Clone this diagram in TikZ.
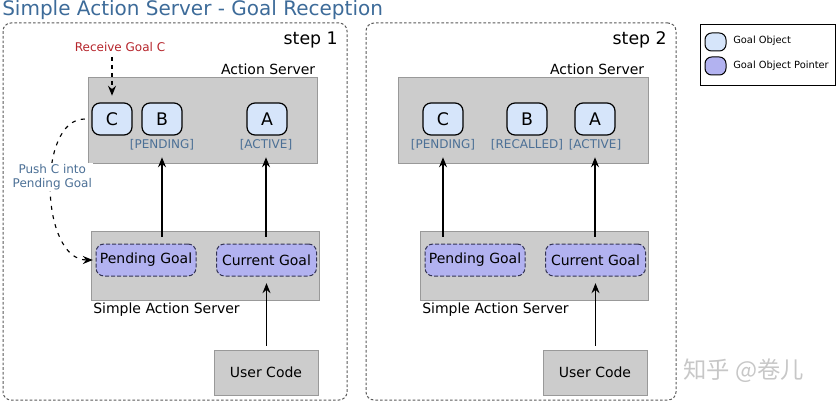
\documentclass[tikz,border=0pt]{standalone}
\usepackage{fontspec}
\setmainfont{DejaVu Sans}
\newfontfamily\cjk{Noto Sans CJK SC}
\usepackage{xcolor}
\usepackage{tikz}
\usetikzlibrary{arrows.meta}
\definecolor{boxgray}{rgb}{0.80, 0.80, 0.80}
\definecolor{boxedge}{rgb}{0.60, 0.60, 0.60}
\definecolor{objblue}{rgb}{0.84, 0.90, 0.98}
\definecolor{ptrpurple}{rgb}{0.70, 0.70, 0.94}
\definecolor{ptredge}{rgb}{0.20, 0.20, 0.33}
\definecolor{lblblue}{rgb}{0.30, 0.44, 0.59}
\definecolor{titleblue}{rgb}{0.24, 0.42, 0.60}
\definecolor{recvred}{rgb}{0.71, 0.14, 0.17}
\definecolor{dashgray}{rgb}{0.35, 0.35, 0.35}

\begin{document}
\begin{tikzpicture}[x=0.75pt, y=-0.75pt,
					every node/.style = {inner sep=0pt, font=\fontsize{10.5pt}{12pt}\selectfont},
					panel/.style = {draw=dashgray, line width=0.75pt, dash pattern=on 2pt off 1.5pt, rounded corners=6pt},
					srvbox/.style = {draw=boxedge, line width=0.75pt, fill=boxgray},
					goalobj/.style = {draw, line width=0.9pt, fill=objblue, rounded corners=6pt,
						minimum width=30pt, minimum height=24pt, font=\fontsize{13pt}{15pt}\selectfont},
					goalptr/.style = {draw=ptredge, line width=0.75pt, dash pattern=on 3pt off 1.5pt, fill=ptrpurple,
						rounded corners=6pt, minimum width=75pt, minimum height=24pt},
					statelbl/.style = {text=lblblue, font=\fontsize{9pt}{10.5pt}\selectfont},
					arr/.style = {-{Stealth[length=7.5pt, width=6pt, inset=2.5pt]}, line width=0.85pt}]
	\useasboundingbox (0,0) rectangle (838,403);
	\node[anchor=base west, text=titleblue, font=\fontsize{15pt}{18pt}\selectfont] (title) at (2,16)
		{Simple Action Server - Goal Reception};

	\node[panel, minimum width=258pt, minimum height=282.75pt] (panel1) at (175,211.5) {};
	\node[panel, minimum width=232.5pt, minimum height=282.75pt] (panel2) at (521,211.5) {};
	\node[anchor=base east, font=\fontsize{13pt}{15pt}\selectfont] (step1) at (338,45) {step 1};
	\node[anchor=base east, font=\fontsize{13pt}{15pt}\selectfont] (step2) at (667,45) {step 2};

	\node[srvbox, minimum width=171.75pt, minimum height=63.75pt] (as1) at (202.5,120.5) {};
	\node[srvbox, minimum width=187.5pt, minimum height=63.75pt] (as2) at (523,120.5) {};
	\node[anchor=south east, xshift=-1.5pt, yshift=2pt] (aslbl1) at (as1.north east) {Action Server};
	\node[anchor=south east, xshift=-3pt, yshift=2pt] (aslbl2) at (as2.north east) {Action Server};

	\node[goalobj] (C1) at (112,119) {C};
	\node[goalobj] (B1) at (162,119) {B};
	\node[goalobj] (A1) at (267,119) {A};
	\node[statelbl] (lblB1) at (162,145) {[PENDING]};
	\node[statelbl] (lblA1) at (266,145) {[ACTIVE]};
	\node[goalobj] (C2) at (443,119) {C};
	\node[goalobj] (B2) at (527,119) {B};
	\node[goalobj] (A2) at (595,119) {A};
	\node[statelbl] (lblC2) at (443,145) {[PENDING]};
	\node[statelbl] (lblB2) at (527,145) {[RECALLED]};
	\node[statelbl] (lblA2) at (595,145) {[ACTIVE]};

	\node[srvbox, minimum width=171pt, minimum height=51.75pt] (sas1) at (205,265.5) {};
	\node[srvbox, minimum width=171pt, minimum height=51.75pt] (sas2) at (534.5,265.5) {};
	\node[anchor=base west] (saslbl1) at (93,313) {Simple Action Server};
	\node[anchor=base west] (saslbl2) at (422,313) {Simple Action Server};
	\node[goalptr] (pg1) at (146,260) {Pending Goal};
	\node[goalptr] (cg1) at (266.5,260) {Current Goal};
	\node[goalptr] (pg2) at (475,260) {Pending Goal};
	\node[goalptr] (cg2) at (595.5,260) {Current Goal};

	\node[srvbox, minimum width=78pt, minimum height=33.75pt] (uc1) at (266,372.5) {User Code};
	\node[srvbox, minimum width=78pt, minimum height=33.75pt] (uc2) at (595,372.5) {User Code};

	\node[anchor=base, text=recvred, font=\fontsize{9pt}{10.5pt}\selectfont] (recv) at (120,51) {Receive Goal C};
	\draw[arr, dashed, shorten <=4pt, shorten >=5pt] (C1.north |- recv.south) -- (C1.north);
	\draw[arr, dash pattern=on 3pt off 4pt, shorten <=5pt, shorten >=2pt] (C1.west) to[out=180, in=180]
		node[pos=0.44, statelbl, fill=white, align=center, inner sep=1pt] (push) {Push C into\\Pending Goal} (pg1.west);

	\draw[arr, shorten <=5pt, shorten >=5pt] (pg1.north -| lblB1) -- (lblB1.south);
	\draw[arr, shorten <=5pt, shorten >=5pt] (cg1.north -| lblA1) -- (lblA1.south);
	\draw[arr, shorten <=3pt, shorten >=5pt] (uc1.north -| cg1) -- (cg1.south);
	\draw[arr, shorten <=5pt, shorten >=5pt] (pg2.north -| lblC2) -- (lblC2.south);
	\draw[arr, shorten <=5pt, shorten >=5pt] (cg2.north -| lblA2) -- (lblA2.south);
	\draw[arr, shorten <=3pt, shorten >=5pt] (uc2.north -| cg2) -- (cg2.south);

	\node[draw, line width=0.75pt, minimum width=101.25pt, minimum height=45pt] (legend) at (767.5,55) {};
	\node[draw, line width=0.75pt, fill=objblue, rounded corners=5pt, minimum width=15.75pt, minimum height=13.5pt] (lgobj) at (715.5,42) {};
	\node[draw, line width=0.75pt, fill=ptrpurple, rounded corners=5pt, minimum width=15.75pt, minimum height=13.5pt] (lgptr) at (715.5,66) {};
	\node[anchor=west, font=\fontsize{7.4pt}{9pt}\selectfont] (lgobjtxt) at (733,41) {Goal Object};
	\node[anchor=west, font=\fontsize{7.4pt}{9pt}\selectfont] (lgptrtxt) at (733,66) {Goal Object Pointer};

	\node[anchor=west, text=black!22, font=\cjk\fontsize{17.5pt}{20pt}\selectfont] (mark) at (683,371) {知乎 @卷儿};
\end{tikzpicture}
\end{document}
